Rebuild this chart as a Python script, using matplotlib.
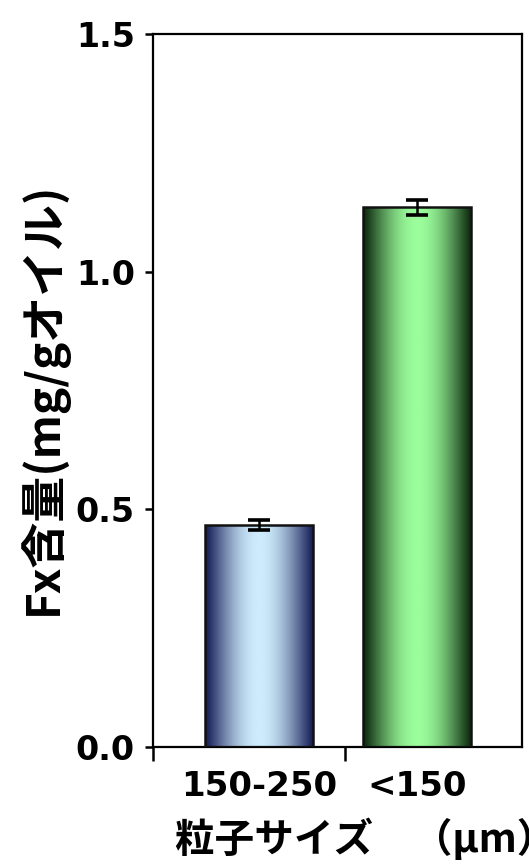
import matplotlib
matplotlib.use('Agg')
import matplotlib.pyplot as plt
import numpy as np
from matplotlib.colors import LinearSegmentedColormap

SIZES = ['150-250', '<150']
FX_CONTENT = [0.467, 1.135]
FX_ERR = [0.011, 0.015]
BAR_COLORS = [('#141a55', '#cdebfc'), ('#0a260c', '#9bfd9b')]

JP_FONT = ['Noto Sans CJK JP', 'DejaVu Sans']

plt.rcParams['font.family'] = ['DejaVu Sans']
plt.rcParams['font.weight'] = 'bold'

fig = plt.figure(figsize=(5.29, 8.64), dpi=100)
ax = fig.add_axes([0.2892, 0.1358, 0.6976, 0.8248])

x = np.arange(len(SIZES))
bars = ax.bar(x, FX_CONTENT, width=0.684, color='none', edgecolor='#111111',
              linewidth=1.8, zorder=3)
ax.errorbar(x, FX_CONTENT, yerr=FX_ERR, fmt='none', ecolor='black',
            elinewidth=1.8, capsize=8, capthick=2.6, zorder=4)

# cylinder-like shading: dark at both edges, light in the middle
t = np.linspace(0, 1, 256)
shade = np.sin(np.pi * t) ** 1.1
for bar, (dark, light) in zip(bars, BAR_COLORS):
    cmap = LinearSegmentedColormap.from_list('shade', [dark, light])
    x0, w, h = bar.get_x(), bar.get_width(), bar.get_height()
    im = ax.imshow(shade[np.newaxis, :], cmap=cmap, aspect='auto',
                   extent=(x0, x0 + w, 0, h), interpolation='bilinear', zorder=2)
    im.set_clip_path(bar)

ax.set_xlim(-0.671, 1.665)
ax.set_ylim(0, 1.5)

ax.set_xticks(x, SIZES)
ax.set_xticks([-0.671, 0.544], minor=True)
ax.tick_params(axis='x', which='major', length=0, pad=17, labelsize=24.5)
ax.tick_params(axis='x', which='minor', length=10, width=1.8, direction='out')

ax.set_yticks([0, 0.5, 1.0, 1.5])
ax.yaxis.set_major_formatter('{x:.1f}')
ax.tick_params(axis='y', length=6, width=1.8, pad=7, labelsize=24)

for side in ['left', 'right', 'top', 'bottom']:
    ax.spines[side].set_linewidth(1.6)

ax.set_ylabel('Fx含量(mg/gオイル)', family=JP_FONT, fontsize=33,
              fontweight='bold', va='center')
ax.yaxis.set_label_coords((43 - 153) / 369, 0.489)

fig.text(175 / 529, 1 - 840 / 864, '粒子サイズ　（μm）', family=JP_FONT,
         fontsize=28.5, fontweight='bold', ha='left', va='center')

fig.savefig('out.png', dpi=100)
